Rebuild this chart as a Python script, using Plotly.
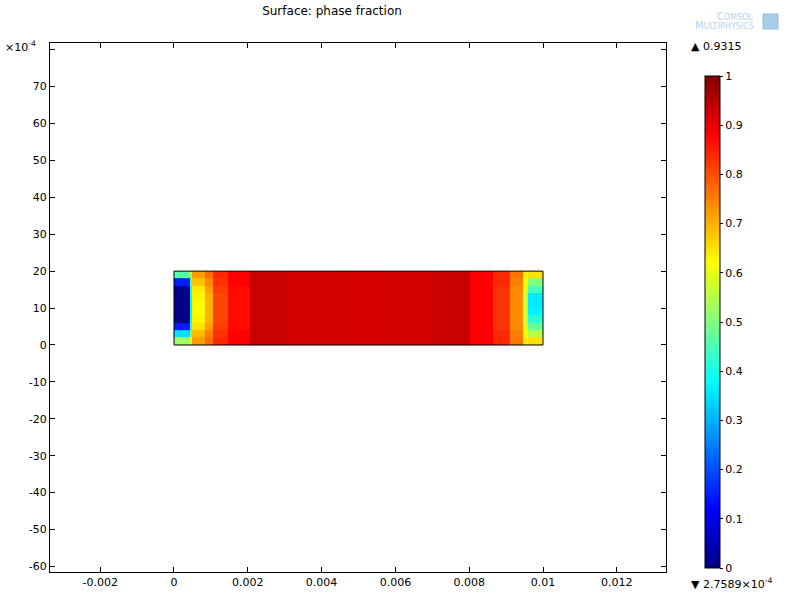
import plotly.graph_objects as go

# ---- data ----
# x cell edges (m) and y cell edges (units of 1e-4 m)
x_edges = [0, 0.00043, 0.0005, 0.00084, 0.00106, 0.00146, 0.00206, 0.00306,
           0.0045, 0.0058, 0.00702, 0.00802, 0.00864, 0.0091, 0.00946, 0.00958, 0.01]
y_edges = [0, 2, 4, 6, 8, 10, 12, 14, 16, 18, 20]

# phase fraction per column, rows from bottom (y=0) to top (y=20)
col_values = [
    [0.53, 0.35, 0.15, 0.01, 0.005, 0.005, 0.005, 0.01, 0.15, 0.46],
    [0.58, 0.50, 0.42, 0.38, 0.37, 0.37, 0.38, 0.40, 0.45, 0.55],
    [0.72, 0.69, 0.65, 0.63, 0.62, 0.62, 0.63, 0.64, 0.68, 0.72],
    [0.77, 0.75, 0.72, 0.70, 0.70, 0.70, 0.70, 0.72, 0.74, 0.77],
    [0.84, 0.83, 0.82, 0.81, 0.81, 0.81, 0.81, 0.82, 0.83, 0.84],
    [0.88, 0.88, 0.87, 0.87, 0.87, 0.87, 0.87, 0.87, 0.88, 0.88],
    [0.93, 0.93, 0.93, 0.93, 0.93, 0.93, 0.93, 0.93, 0.93, 0.93],
    [0.92, 0.92, 0.92, 0.92, 0.92, 0.92, 0.92, 0.92, 0.92, 0.92],
    [0.918, 0.918, 0.918, 0.918, 0.918, 0.918, 0.918, 0.918, 0.918, 0.918],
    [0.92, 0.92, 0.92, 0.92, 0.92, 0.92, 0.92, 0.92, 0.92, 0.92],
    [0.93, 0.93, 0.93, 0.93, 0.93, 0.93, 0.93, 0.93, 0.93, 0.93],
    [0.885, 0.885, 0.88, 0.88, 0.88, 0.88, 0.88, 0.88, 0.885, 0.885],
    [0.84, 0.84, 0.83, 0.83, 0.83, 0.83, 0.83, 0.83, 0.84, 0.84],
    [0.76, 0.75, 0.74, 0.74, 0.74, 0.74, 0.74, 0.74, 0.75, 0.76],
    [0.64, 0.62, 0.60, 0.58, 0.58, 0.58, 0.58, 0.60, 0.62, 0.64],
    [0.65, 0.55, 0.48, 0.42, 0.37, 0.36, 0.36, 0.44, 0.50, 0.65],
]

x_ticks = [-0.002, 0, 0.002, 0.004, 0.006, 0.008, 0.01, 0.012]
x_ticktext = ["-0.002", "0", "0.002", "0.004", "0.006", "0.008", "0.01", "0.012"]
y_ticks = [-60, -50, -40, -30, -20, -10, 0, 10, 20, 30, 40, 50, 60, 70, 80]
y_ticktext = ["-60", "-50", "-40", "-30", "-20", "-10", "0", "10", "20", "30",
              "40", "50", "60", "70", ""]
cb_ticks = [0, 0.1, 0.2, 0.3, 0.4, 0.5, 0.6, 0.7, 0.8, 0.9, 1]
cb_ticktext = ["0", "0.1", "0.2", "0.3", "0.4", "0.5", "0.6", "0.7", "0.8", "0.9", "1"]
max_label = "▲ 0.9315"
min_label = "▼ 2.7589×10<sup>-4</sup>"

# transpose columns to rows
z = [[col[r] for col in col_values] for r in range(len(y_edges) - 1)]

jet = [[0, "rgb(0,0,128)"], [0.12, "rgb(0,0,255)"], [0.38, "rgb(0,255,255)"],
       [0.62, "rgb(255,255,0)"], [0.88, "rgb(255,0,0)"], [1, "rgb(128,0,0)"]]

FONT = "DejaVu Sans"

fig = go.Figure()
fig.add_trace(go.Heatmap(
    x=x_edges, y=y_edges, z=z, zmin=0, zmax=1, colorscale=jet,
    colorbar=dict(
        x=(705 - 50) / 616, xanchor="left", xpad=0, ypad=0,
        y=1 - (322 - 43) / 529, yanchor="middle",
        thickness=15, thicknessmode="pixels",
        len=492, lenmode="pixels",
        outlinewidth=1, outlinecolor="black",
        tickvals=cb_ticks, ticktext=cb_ticktext,
        ticks="outside", ticklen=3, tickcolor="black",
        tickfont=dict(family=FONT, size=11, color="black"),
    ),
    hoverinfo="skip",
))

fig.add_shape(type="rect", xref="x", yref="y",
              x0=x_edges[0], x1=x_edges[-1], y0=y_edges[0], y1=y_edges[-1],
              line=dict(color="black", width=1))

axis_common = dict(showgrid=False, zeroline=False, showline=True, linecolor="black",
                   linewidth=1, mirror="ticks", ticks="inside", ticklen=5,
                   tickcolor="black", tickfont=dict(family=FONT, size=11, color="black"))

fig.update_xaxes(range=[-0.00336, 0.013333], tickvals=x_ticks, ticktext=x_ticktext,
                 **axis_common)
fig.update_yaxes(range=[-61.5, 81.8], tickvals=y_ticks, ticktext=y_ticktext,
                 **axis_common)

fig.update_layout(
    width=800, height=600,
    margin=dict(l=50, r=134, t=43, b=28),
    paper_bgcolor="white", plot_bgcolor="white",
    font=dict(family=FONT, size=11, color="black"),
    title=dict(text="Surface: phase fraction", x=332 / 800, xanchor="center",
               y=1 - 11 / 600, yanchor="middle",
               font=dict(family=FONT, size=12, color="black")),
    showlegend=False,
)

fig.add_annotation(text="×10<sup>-4</sup>", xref="paper", yref="paper",
                   x=(3 - 50) / 616, y=1 - (47 - 43) / 529, xanchor="left",
                   yanchor="middle", showarrow=False,
                   font=dict(family=FONT, size=11, color="black"))
fig.add_annotation(text=max_label, xref="paper", yref="paper",
                   x=(689 - 50) / 616, y=1 - (46 - 43) / 529, xanchor="left",
                   yanchor="middle", showarrow=False,
                   font=dict(family=FONT, size=11, color="black"))
fig.add_annotation(text=min_label, xref="paper", yref="paper",
                   x=(689 - 50) / 616, y=1 - (583 - 43) / 529, xanchor="left",
                   yanchor="middle", showarrow=False,
                   font=dict(family=FONT, size=11, color="black"))

# COMSOL logo (text)
fig.add_annotation(text="C<span style='font-size:8px'>OMSOL</span>", xref="paper", yref="paper",
                   x=(756 - 50) / 616, y=1 - (17 - 43) / 529, xanchor="right",
                   yanchor="middle", showarrow=False,
                   font=dict(family=FONT, size=10, color="#b4d4ea"))
fig.add_annotation(text="M<span style='font-size:8px'>ULTIPHYSICS</span>", xref="paper", yref="paper",
                   x=(756 - 50) / 616, y=1 - (26 - 43) / 529, xanchor="right",
                   yanchor="middle", showarrow=False,
                   font=dict(family=FONT, size=10, color="#b4d4ea"))
fig.add_shape(type="rect", xref="paper", yref="paper",
              x0=(763 - 50) / 616, x1=(778 - 50) / 616,
              y0=1 - (29 - 43) / 529, y1=1 - (14 - 43) / 529,
              fillcolor="#a9cde6", line=dict(color="#8fbde0", width=1))

fig.write_html("out.html", config={"displayModeBar": False},
               post_script="document.body.style.margin='0';document.body.style.padding='0';")
